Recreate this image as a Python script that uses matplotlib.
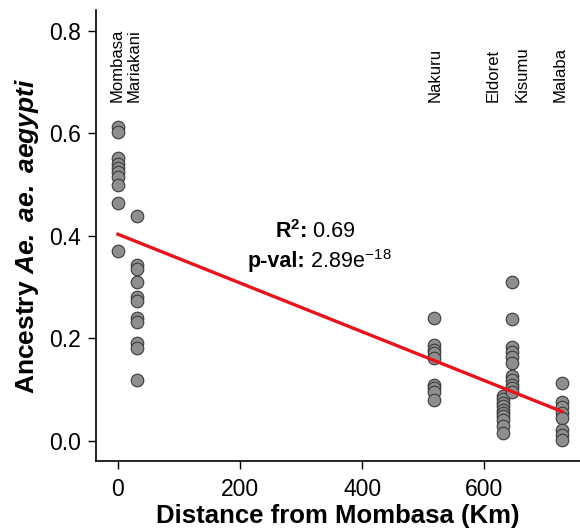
import numpy as np
import matplotlib
matplotlib.use('Agg')
from matplotlib import pyplot as plt

plt.rcParams['font.family'] = ['Liberation Sans', 'DejaVu Sans']
plt.rcParams['mathtext.fontset'] = 'custom'
plt.rcParams['mathtext.rm'] = 'Liberation Sans'
plt.rcParams['mathtext.bf'] = 'Liberation Sans:bold'
plt.rcParams['mathtext.it'] = 'Liberation Sans:italic'
plt.rcParams['mathtext.bfit'] = 'Liberation Sans:italic:bold'

# sites, distance from Mombasa (km) and ancestry values
sites = ['Mombasa', 'Mariakani', 'Nakuru', 'Eldoret', 'Kisumu', 'Malaba']
site_km = [0, 31, 518, 631, 646, 728]
label_km = [-1, 26, 520, 614, 662, 724]

mombasa = [0.613, 0.603, 0.552, 0.540, 0.532, 0.524, 0.515, 0.499, 0.464, 0.370]
mariakani = [0.438, 0.344, 0.335, 0.309, 0.280, 0.272, 0.240, 0.231, 0.192, 0.182, 0.119]
nakuru = [0.239, 0.188, 0.178, 0.172, 0.162, 0.110, 0.104, 0.096, 0.080]
eldoret = [0.088, 0.082, 0.075, 0.068, 0.060, 0.055, 0.048, 0.040, 0.030, 0.015]
kisumu = [0.309, 0.237, 0.184, 0.174, 0.164, 0.153, 0.127, 0.119, 0.110, 0.103, 0.095]
malaba = [0.113, 0.076, 0.067, 0.055, 0.045, 0.022, 0.012, 0.002]
ancestry = [mombasa, mariakani, nakuru, eldoret, kisumu, malaba]

# linear fit
fit_intercept = 0.403
fit_slope = -0.000475

fig = plt.figure(figsize=(5.8, 5.29), dpi=100)
ax = fig.add_axes([0.1655, 0.1285, 0.8345, 0.8525])

for km, vals in zip(site_km, ancestry):
    ax.scatter(np.full(len(vals), km), vals, s=82, facecolor='#8e8e8e',
               edgecolor='#3a3a3a', linewidth=0.8, zorder=3)

xx = np.array([min(site_km), max(site_km)])
ax.plot(xx, fit_intercept + fit_slope * xx, color='#e8141b', lw=2.4, zorder=4)

for name, km in zip(sites, label_km):
    ax.text(km, 0.661, name, rotation=90, ha='center', va='bottom', fontsize=12)

ax.text(309, 0.409, r'R$^\mathbf{2}$:', ha='right', va='center', fontsize=15.5, weight='bold')
ax.text(309, 0.409, ' 0.69', ha='left', va='center', fontsize=15.5)
ax.text(306, 0.350, 'p-val:', ha='right', va='center', fontsize=15.5, weight='bold')
ax.text(306, 0.350, r' 2.89e$^{-18}$', ha='left', va='center', fontsize=15.5)

ax.set_xlim(-36, 757)
ax.set_ylim(-0.039, 0.84)
ax.set_xticks([0, 200, 400, 600])
ax.set_yticks([0.0, 0.2, 0.4, 0.6, 0.8])
ax.set_yticklabels(['0.0', '0.2', '0.4', '0.6', '0.8'])
ax.tick_params(labelsize=16.5, length=6, width=1, pad=5)
ax.tick_params(axis='x', pad=6)
ax.spines['top'].set_visible(False)
ax.spines['right'].set_visible(False)
ax.spines['left'].set_linewidth(1.2)
ax.spines['bottom'].set_linewidth(1.2)

ax.set_xlabel('Distance from Mombasa (Km)', fontsize=18.5, weight='bold')
ax.xaxis.set_label_coords(0.5, -0.095)
ax.set_ylabel(r'Ancestry $\mathbfit{Ae.\ ae.\ aegypti}$', fontsize=19, weight='bold', labelpad=6)

fig.savefig('out.png', dpi=100)
